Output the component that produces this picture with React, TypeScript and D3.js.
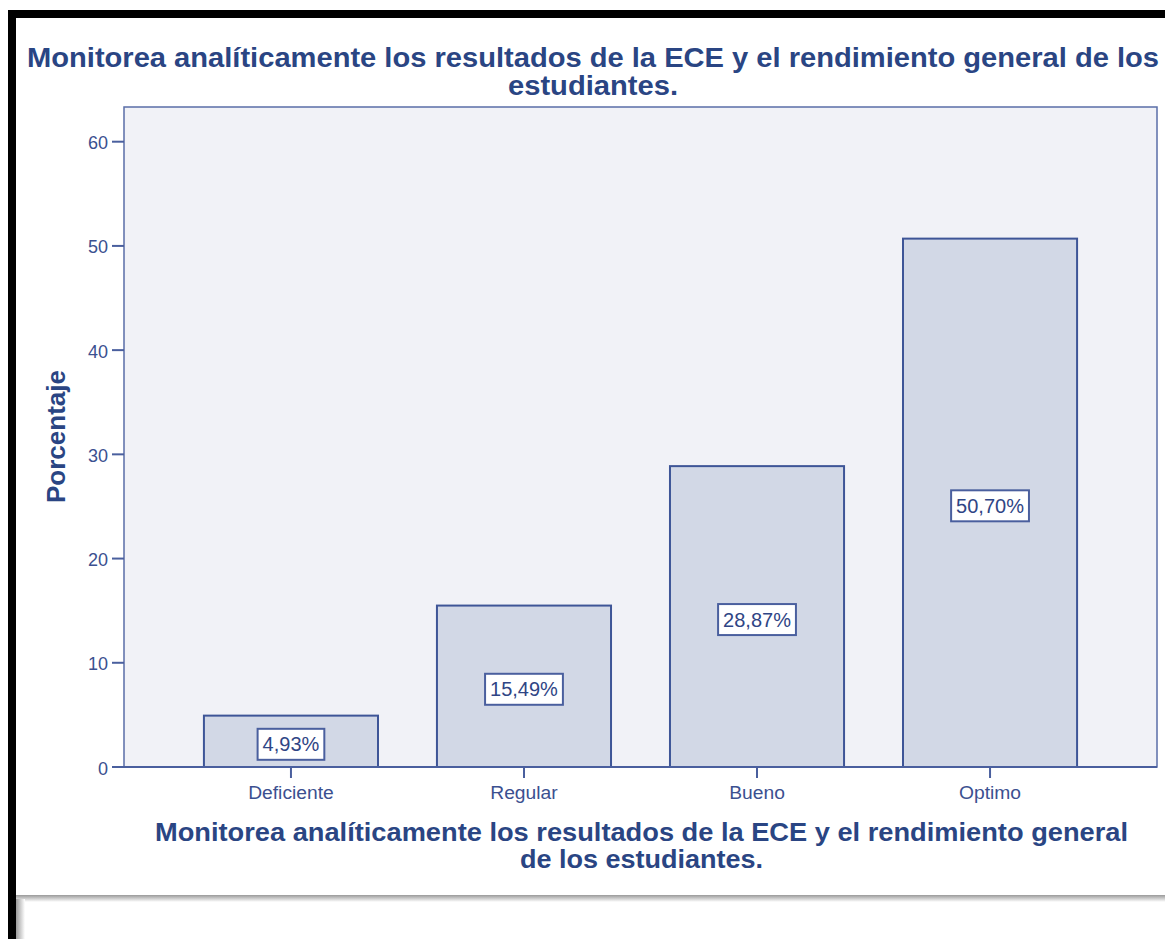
import React, { useEffect, useRef } from "react";
import * as d3 from "d3";

const categories = ["Deficiente", "Regular", "Bueno", "Optimo"];
const percentages = [4.93, 15.49, 28.87, 50.7];
const yTicks = [0, 10, 20, 30, 40, 50, 60];
const titleLines = [
  "Monitorea analíticamente los resultados de la ECE y el rendimiento general de los",
  "estudiantes.",
];
const xTitleLines = [
  "Monitorea analíticamente los resultados de la ECE y el rendimiento general",
  "de los estudiantes.",
];
const yTitle = "Porcentaje";

const W = 1165;
const H = 939;
const TXT = "#2a4583";
const AXIS = "#4a5f9e";
const FONT = "'Liberation Sans', Arial, sans-serif";

export default function App() {
  const ref = useRef<SVGSVGElement | null>(null);

  useEffect(() => {
    const svg = d3.select(ref.current);
    svg.selectAll("*").remove();

    // page background
    svg.append("rect").attr("x", 0).attr("y", 0).attr("width", W).attr("height", H).attr("fill", "#ffffff");

    // black frame (top + left)
    svg.append("rect").attr("x", 8).attr("y", 10).attr("width", W - 8).attr("height", 8).attr("fill", "#000");
    svg.append("rect").attr("x", 8).attr("y", 10).attr("width", 8).attr("height", H - 10).attr("fill", "#000");

    // bottom shadow separator
    const defs = svg.append("defs");
    const g1 = defs.append("linearGradient").attr("id", "hsh").attr("x1", 0).attr("y1", 0).attr("x2", 0).attr("y2", 1);
    g1.append("stop").attr("offset", "0%").attr("stop-color", "#9a9a9a");
    g1.append("stop").attr("offset", "100%").attr("stop-color", "#ffffff");
    const g2 = defs.append("linearGradient").attr("id", "vsh").attr("x1", 0).attr("y1", 0).attr("x2", 1).attr("y2", 0);
    g2.append("stop").attr("offset", "0%").attr("stop-color", "#9a9a9a");
    g2.append("stop").attr("offset", "100%").attr("stop-color", "#ffffff");
    svg.append("rect").attr("x", 16).attr("y", 895).attr("width", W - 16).attr("height", 7).attr("fill", "url(#hsh)");
    svg.append("rect").attr("x", 16).attr("y", 899).attr("width", 9).attr("height", H - 899).attr("fill", "url(#vsh)");

    const plotL = 124, plotR = 1157, plotT = 107, plotB = 767;

    const x = d3.scaleBand<string>().domain(categories).range([plotL, plotR]).paddingInner(0.253).paddingOuter(0.343);
    const y = d3.scaleLinear().domain([0, 60]).range([plotB, 141.7]);

    // plot background
    svg.append("rect")
      .attr("x", plotL).attr("y", plotT).attr("width", plotR - plotL).attr("height", plotB - plotT)
      .attr("fill", "#f1f2f7").attr("stroke", "#5a6ea8").attr("stroke-width", 1.5);

    // bars
    svg.append("g").selectAll("rect").data(percentages).join("rect")
      .attr("x", (_, i) => x(categories[i])!)
      .attr("y", (d) => y(d))
      .attr("width", x.bandwidth())
      .attr("height", (d) => plotB - y(d))
      .attr("fill", "#d2d8e6")
      .attr("stroke", "#3e5597")
      .attr("stroke-width", 2);

    // x axis line
    svg.append("line").attr("x1", plotL).attr("x2", plotR).attr("y1", plotB).attr("y2", plotB)
      .attr("stroke", AXIS).attr("stroke-width", 2);

    // y axis
    const yAxis = svg.append("g");
    yTicks.forEach((t) => {
      yAxis.append("line").attr("x1", 112).attr("x2", plotL).attr("y1", y(t)).attr("y2", y(t))
        .attr("stroke", AXIS).attr("stroke-width", 2);
      yAxis.append("text").attr("x", 108).attr("y", y(t) + 7.5)
        .attr("text-anchor", "end").attr("font-family", FONT).attr("font-size", 18)
        .attr("fill", "#3b5090").text(String(t));
    });

    // x ticks and labels
    categories.forEach((c) => {
      const cx = x(c)! + x.bandwidth() / 2;
      svg.append("line").attr("x1", cx).attr("x2", cx).attr("y1", plotB).attr("y2", 778)
        .attr("stroke", AXIS).attr("stroke-width", 2);
      const t = svg.append("text").attr("x", cx).attr("y", 799).attr("text-anchor", "middle")
        .attr("font-family", FONT).attr("font-size", 17.5)
        .attr("fill", "#3b5090").text(c);
      const tw = (t.node() as SVGTextElement).getComputedTextLength();
      t.attr("textLength", tw * 1.1).attr("lengthAdjust", "spacingAndGlyphs");
    });

    // value labels
    percentages.forEach((v, i) => {
      const cx = x(categories[i])! + x.bandwidth() / 2;
      const cy = (y(v) + plotB) / 2 + 3;
      const label = v.toFixed(2).replace(".", ",") + "%";
      const gl = svg.append("g");
      const rect = gl.append("rect");
      const t = gl.append("text").attr("x", cx).attr("y", cy + 7)
        .attr("text-anchor", "middle").attr("font-family", FONT).attr("font-size", 20)
        .attr("fill", "#2f4585").text(label);
      const tw = (t.node() as SVGTextElement).getComputedTextLength();
      const bw = tw + 10;
      const bh = 31;
      rect.attr("x", cx - bw / 2).attr("y", cy - bh / 2).attr("width", bw).attr("height", bh)
        .attr("fill", "#ffffff").attr("stroke", "#4a5f9e").attr("stroke-width", 2);
    });

    // main title
    svg.append("text").attr("x", 27).attr("y", 67).attr("font-family", FONT).attr("font-weight", "bold")
      .attr("font-size", 27).attr("fill", TXT).attr("textLength", 1132).attr("lengthAdjust", "spacingAndGlyphs")
      .text(titleLines[0]);
    svg.append("text").attr("x", 508).attr("y", 95).attr("font-family", FONT).attr("font-weight", "bold")
      .attr("font-size", 27).attr("fill", TXT).attr("textLength", 170).attr("lengthAdjust", "spacingAndGlyphs")
      .text(titleLines[1]);

    // x axis title
    svg.append("text").attr("x", 155).attr("y", 841).attr("font-family", FONT).attr("font-weight", "bold")
      .attr("font-size", 25).attr("fill", TXT).attr("textLength", 973).attr("lengthAdjust", "spacingAndGlyphs")
      .text(xTitleLines[0]);
    svg.append("text").attr("x", 520).attr("y", 868).attr("font-family", FONT).attr("font-weight", "bold")
      .attr("font-size", 25).attr("fill", TXT).attr("textLength", 243).attr("lengthAdjust", "spacingAndGlyphs")
      .text(xTitleLines[1]);

    // y axis title
    svg.append("text").attr("transform", "translate(65,503) rotate(-90)")
      .attr("x", 0).attr("y", 0).attr("font-family", FONT).attr("font-weight", "bold")
      .attr("font-size", 25).attr("fill", TXT).attr("textLength", 133).attr("lengthAdjust", "spacingAndGlyphs")
      .text(yTitle);
  }, []);

  return (
    <div style={{ position: "absolute", left: 0, top: 0 }}>
      <svg ref={ref} width={W} height={H} style={{ display: "block" }} />
    </div>
  );
}
